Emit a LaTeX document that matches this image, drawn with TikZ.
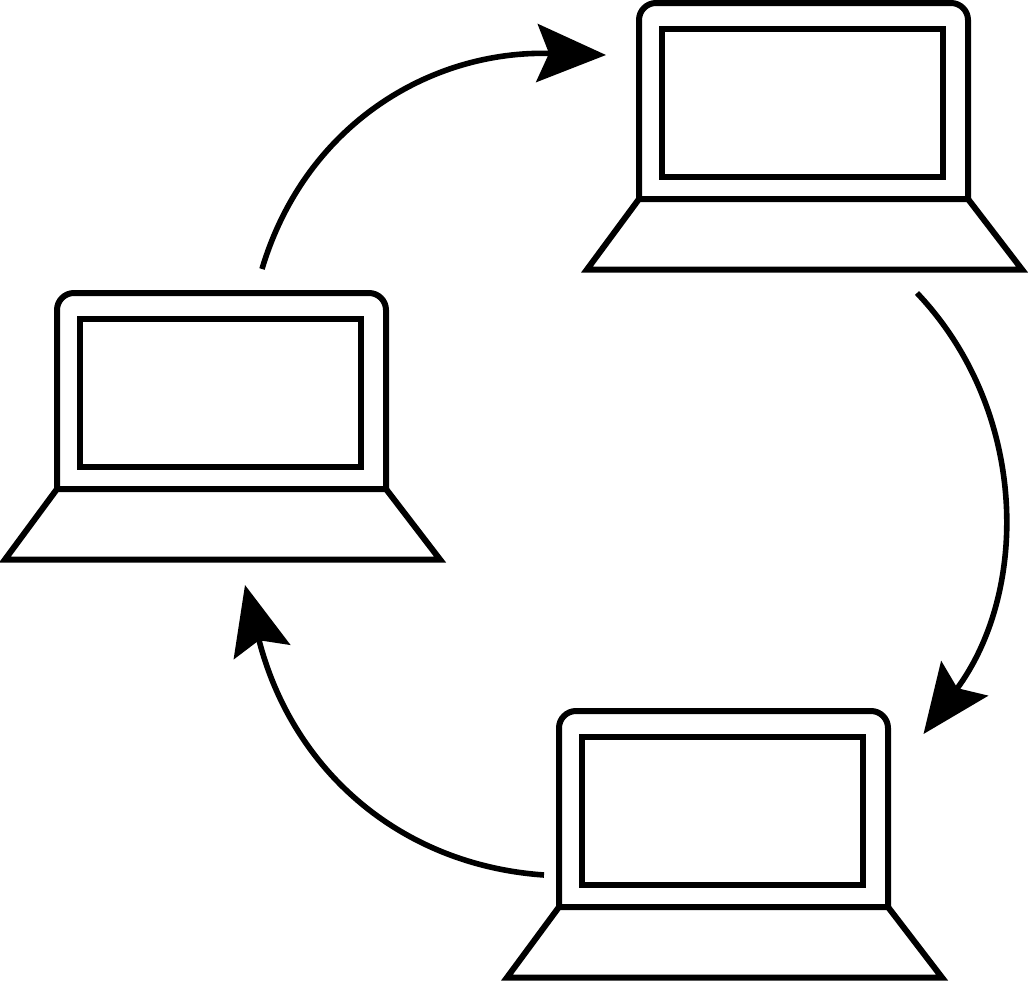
\documentclass[tikz,border=0pt]{standalone}
\usetikzlibrary{arrows.meta}
\tikzset{
  x=1pt,y=-1pt,
  lapline/.style={line width=6pt,line join=miter,draw=black},
  flow/.style={line width=5.6pt,draw=black,-{Stealth[length=69pt,width=58pt,inset=12pt]}},
  laptop/.pic={
    \draw[lapline,rounded corners=17pt] (0,196) -- (0,0) -- (329,0) -- (329,196);
    \draw[lapline] (23,25.5) rectangle (304,174);
    \draw[lapline] (0,196) -- (329,196) -- (383,266.5) -- (-52,266.5) -- cycle;
  }
}
\begin{document}
\begin{tikzpicture}
\useasboundingbox (0,0) rectangle (1028,980);
\pic (top) at (639,3) {laptop};
\pic (left) at (57,293) {laptop};
\pic (bottom) at (559,711) {laptop};
\coordinate (a1s) at (262,269);
\coordinate (a1e) at (606,55);
\coordinate (a2s) at (917,293);
\coordinate (a2e) at (923.5,734);
\coordinate (a3s) at (544,875);
\coordinate (a3e) at (245,585);
\draw[flow] (a1s) .. controls (305,125) and (430,50) .. (a1e);
\draw[flow] (a2s) .. controls (1028,410) and (1030,590) .. (a2e);
\draw[flow] (a3s) .. controls (400,865) and (292,770) .. (a3e);
\end{tikzpicture}
\end{document}
